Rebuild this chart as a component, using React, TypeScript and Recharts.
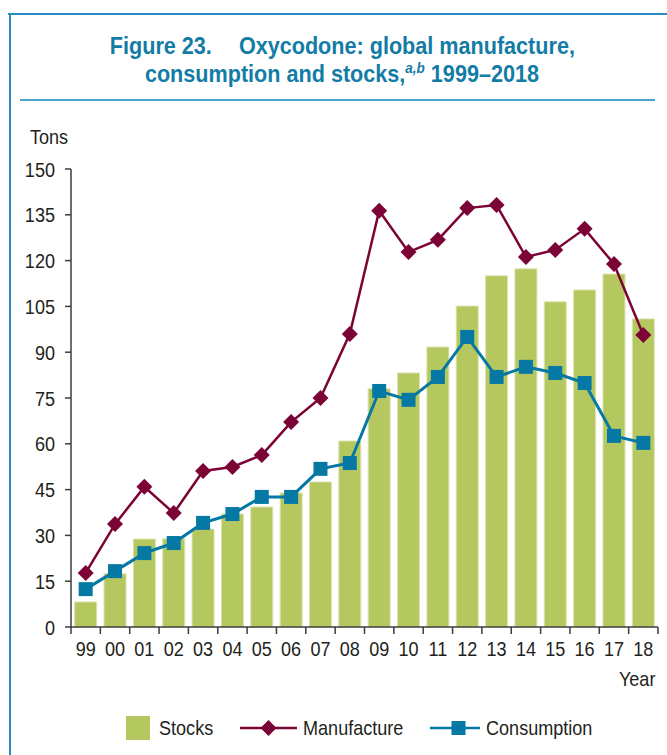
import React from 'react';
import { ComposedChart, Bar, Line, XAxis, YAxis, Legend } from 'recharts';

const YEARS = ['99', '00', '01', '02', '03', '04', '05', '06', '07', '08', '09', '10', '11', '12', '13', '14', '15', '16', '17', '18'];
const STOCKS = [8.2, 17.4, 28.8, 28.9, 32.1, 37.0, 39.3, 43.9, 47.5, 60.9, 78.0, 83.2, 91.7, 105.1, 115.0, 117.3, 106.5, 110.4, 115.6, 100.9];
const MANUFACTURE = [17.7, 33.7, 45.9, 37.3, 51.1, 52.4, 56.3, 67.1, 75.0, 96.0, 136.3, 122.8, 126.8, 137.2, 138.2, 121.2, 123.5, 130.4, 118.9, 95.6];
const CONSUMPTION = [12.4, 18.3, 24.2, 27.5, 34.1, 37.0, 42.6, 42.6, 51.8, 53.7, 77.3, 74.4, 81.9, 95.0, 81.9, 85.2, 83.2, 79.9, 62.6, 60.3];
const Y_TICKS = [0, 15, 30, 45, 60, 75, 90, 105, 120, 135, 150];
const LEGEND_ORDER = ['stocks', 'manufacture', 'consumption'];

const data = YEARS.map((year, i) => ({
  year,
  stocks: STOCKS[i],
  manufacture: MANUFACTURE[i],
  consumption: CONSUMPTION[i],
}));

// Helvetica Condensed look-alike: Liberation Sans squeezed horizontally
const FONT = "'Liberation Sans', Arial, sans-serif";
const SQUEEZE = 0.86;
const TITLE_SQUEEZE = 0.9;
const TEXT = '#231f20';
const AXIS = '#3c3c3c';
const GREEN = '#b5c860';
const WINE = '#7c0336';
const BLUE = '#0578a4';
const TEAL_TITLE = '#137ca6';

const W = 667;
const H = 755;
const MARGIN = { top: 169, right: 9, bottom: 88, left: 11 };
const Y_AXIS_W = 60;
const PLOT_W = W - MARGIN.left - Y_AXIS_W - MARGIN.right;

const Narrow = ({ children, origin = 'center', squeeze = SQUEEZE, style }: any) => (
  <span style={{ display: 'inline-block', whiteSpace: 'nowrap', transform: `scaleX(${squeeze})`, transformOrigin: origin, ...style }}>
    {children}
  </span>
);

const YearTick = (props: any) => {
  const { x, y, payload, index } = props;
  const step = PLOT_W / YEARS.length;
  return (
    <g>
      <line x1={x - step / 2} y1={y} x2={x - step / 2} y2={y + 7} stroke={AXIS} strokeWidth={1.5} />
      {index === YEARS.length - 1 && (
        <line x1={x + step / 2} y1={y} x2={x + step / 2} y2={y + 7} stroke={AXIS} strokeWidth={1.5} />
      )}
      <text transform={`translate(${x},${y + 29}) scale(${SQUEEZE},1)`} textAnchor="middle" fill={TEXT} fontSize={21} fontFamily={FONT}>
        {payload.value}
      </text>
    </g>
  );
};

const TonsTick = (props: any) => {
  const { x, y, payload } = props;
  return (
    <text transform={`translate(${x},${y}) scale(${SQUEEZE},1)`} dy="0.36em" textAnchor="end" fill={TEXT} fontSize={21} fontFamily={FONT}>
      {payload.value}
    </text>
  );
};

const Diamond = (props: any) => {
  const { cx, cy, index } = props;
  if (cx == null || cy == null) return <g key={index} />;
  const r = 8;
  return (
    <polygon key={index} points={`${cx},${cy - r} ${cx + r},${cy} ${cx},${cy + r} ${cx - r},${cy}`} fill={WINE} />
  );
};

const Square = (props: any) => {
  const { cx, cy, index } = props;
  if (cx == null || cy == null) return <g key={index} />;
  const s = 14;
  return <rect key={index} x={cx - s / 2} y={cy - s / 2} width={s} height={s} fill={BLUE} />;
};

const LegendContent = (props: any) => {
  const items = [...(props.payload || [])].sort(
    (a: any, b: any) => LEGEND_ORDER.indexOf(a.dataKey) - LEGEND_ORDER.indexOf(b.dataKey)
  );
  const itemWidth: Record<string, number> = { stocks: 114, manufacture: 190, consumption: 180 };
  return (
    <div style={{ display: 'flex', alignItems: 'center', paddingLeft: 126, fontFamily: FONT, fontSize: 21, color: TEXT }}>
      {items.map((item: any, i: number) => {
        let icon;
        if (item.dataKey === 'stocks') {
          icon = <svg width={24} height={24} style={{ display: 'block' }}><rect width={24} height={24} fill={GREEN} /></svg>;
        } else {
          const c = item.dataKey === 'manufacture' ? WINE : BLUE;
          icon = (
            <svg width={57} height={20} style={{ display: 'block' }}>
              <line x1={0} y1={10} x2={57} y2={10} stroke={c} strokeWidth={2.5} />
              {item.dataKey === 'manufacture' ? (
                <polygon points="28.5,2 36.5,10 28.5,18 20.5,10" fill={c} />
              ) : (
                <rect x={21.5} y={3} width={14} height={14} fill={c} />
              )}
            </svg>
          );
        }
        return (
          <div key={i} style={{ display: 'flex', alignItems: 'center', width: itemWidth[item.dataKey] }}>
            {icon}
            <Narrow origin="left center" style={{ marginLeft: item.dataKey === 'stocks' ? 9 : 6 }}>{item.value}</Narrow>
          </div>
        );
      })}
    </div>
  );
};

export default function App() {
  return (
    <div style={{ position: 'absolute', left: 0, top: 0, width: W, height: H, background: '#fff', overflow: 'hidden' }}>
      {/* frame */}
      <div style={{ position: 'absolute', left: 8, top: 13, width: W - 8, height: 2, background: '#2a8cc2' }} />
      <div style={{ position: 'absolute', left: 9, top: 13, width: 2, height: H - 13, background: '#2a8cc2' }} />
      <div
        style={{
          position: 'absolute',
          left: 0,
          top: 32,
          width: 684,
          textAlign: 'center',
          fontFamily: FONT,
          fontWeight: 'bold',
          fontSize: 24,
          lineHeight: '28px',
          color: TEAL_TITLE,
        }}
      >
        <div>
          <Narrow squeeze={TITLE_SQUEEZE}>
            Figure 23.<span style={{ display: 'inline-block', width: 30 }} />Oxycodone: global manufacture,
          </Narrow>
        </div>
        <div>
          <Narrow squeeze={TITLE_SQUEEZE}>
            consumption and stocks,<sup style={{ fontStyle: 'italic', fontSize: 15, lineHeight: 0 }}>a,b</sup> 1999–2018
          </Narrow>
        </div>
      </div>
      <div style={{ position: 'absolute', left: 20, top: 99, width: 635, height: 2, background: '#4ba2cc' }} />
      <div style={{ position: 'absolute', left: 30, top: 125, fontFamily: FONT, fontSize: 21, color: TEXT }}>
        <Narrow origin="left center">Tons</Narrow>
      </div>
      <div style={{ position: 'absolute', right: 12, top: 667, fontFamily: FONT, fontSize: 21, color: TEXT }}>
        <Narrow origin="right center">Year</Narrow>
      </div>
      <div style={{ position: 'absolute', left: 0, top: 0 }}>
        <ComposedChart width={W} height={H} data={data} margin={MARGIN} barCategoryGap="12.5%">
          <XAxis
            dataKey="year"
            height={40}
            tickLine={false}
            tickSize={0}
            tickMargin={0}
            interval={0}
            tick={<YearTick />}
            axisLine={{ stroke: AXIS, strokeWidth: 1.5 }}
          />
          <YAxis
            width={Y_AXIS_W}
            domain={[0, 150]}
            ticks={Y_TICKS}
            interval={0}
            tickSize={6}
            tickMargin={10}
            tickLine={{ stroke: AXIS, strokeWidth: 1.5 }}
            axisLine={{ stroke: AXIS, strokeWidth: 1.5 }}
            tick={<TonsTick />}
          />
          <Legend
            layout="horizontal"
            verticalAlign="middle"
            align="center"
            content={<LegendContent />}
            wrapperStyle={{ top: 716, left: 0, width: W }}
          />
          <Bar dataKey="stocks" name="Stocks" fill={GREEN} stroke="#dbe3ae" strokeWidth={1} isAnimationActive={false} />
          <Line
            dataKey="manufacture"
            name="Manufacture"
            stroke={WINE}
            strokeWidth={2.5}
            dot={<Diamond />}
            activeDot={false}
            isAnimationActive={false}
          />
          <Line
            dataKey="consumption"
            name="Consumption"
            stroke={BLUE}
            strokeWidth={3}
            dot={<Square />}
            activeDot={false}
            isAnimationActive={false}
          />
        </ComposedChart>
      </div>
    </div>
  );
}
